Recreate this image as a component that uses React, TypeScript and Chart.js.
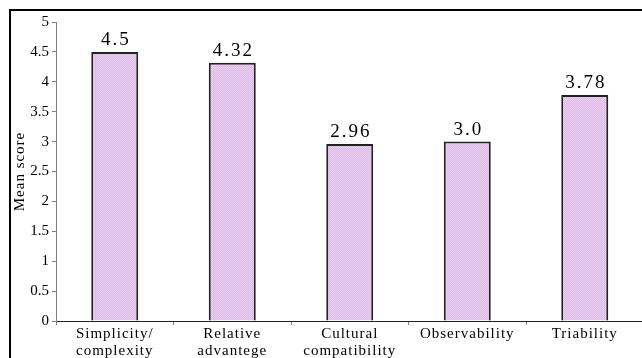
import React, { useEffect, useRef } from "react";
import { Chart, registerables, CategoryScale, LinearScale } from "chart.js";

Chart.register(...registerables);

const categories: string[][] = [
  ["Simplicity/", "complexity"],
  ["Relative", "advantege"],
  ["Cultural", "compatibility"],
  ["Observability"],
  ["Triability"],
];
const meanScores = [4.5, 4.32, 2.96, 3.0, 3.78];
const valueLabels = ["4.5", "4.32", "2.96", "3.0", "3.78"];
const yMin = 0;
const yMax = 5;
const yStep = 0.5;
const yTitle = "Mean score";

const FONT = "'Liberation Serif', 'Times New Roman', serif";

class SpacedCategoryScale extends CategoryScale {
  static id = "spacedCategory";
  static defaults = CategoryScale.defaults;
  drawLabels(area: any) {
    const ctx: any = this.ctx;
    const prev = ctx.letterSpacing;
    ctx.letterSpacing = "1px";
    super.drawLabels(area);
    ctx.letterSpacing = prev || "0px";
  }
}

class SpacedLinearScale extends LinearScale {
  static id = "spacedLinear";
  static defaults = LinearScale.defaults;
  drawTitle() {
    const ctx: any = this.ctx;
    const prev = ctx.letterSpacing;
    ctx.letterSpacing = "1px";
    // @ts-ignore
    super.drawTitle();
    ctx.letterSpacing = prev || "0px";
  }
}

Chart.register(SpacedCategoryScale as any, SpacedLinearScale as any);

function makePattern(): CanvasPattern | string {
  const c = document.createElement("canvas");
  c.width = 2;
  c.height = 2;
  const g = c.getContext("2d");
  if (!g) return "#e4c4e8";
  g.fillStyle = "#f2cce6";
  g.fillRect(0, 0, 2, 2);
  g.fillStyle = "#d6bef0";
  g.fillRect(1, 0, 1, 1);
  g.fillRect(0, 1, 1, 1);
  const p = g.createPattern(c, "repeat");
  return p || "#e4c4e8";
}

const valueLabelPlugin = {
  id: "valueLabels",
  afterDatasetsDraw(chart: any) {
    const ctx = chart.ctx as any;
    const meta = chart.getDatasetMeta(0);
    ctx.save();
    ctx.font = `19px ${FONT}`;
    ctx.fillStyle = "#000";
    ctx.textAlign = "center";
    ctx.textBaseline = "alphabetic";
    ctx.letterSpacing = "2px";
    meta.data.forEach((bar: any, i: number) => {
      ctx.fillText(valueLabels[i], bar.x + 1, bar.y - 7);
    });
    ctx.restore();
  },
};

export default function App() {
  const ref = useRef<HTMLCanvasElement | null>(null);

  useEffect(() => {
    if (!ref.current) return;
    const chart = new Chart(ref.current, {
      type: "bar",
      data: {
        labels: categories,
        datasets: [
          {
            data: meanScores,
            backgroundColor: makePattern() as any,
            borderColor: "#222",
            borderWidth: 2,
            barPercentage: 0.4,
            categoryPercentage: 1,
          },
        ],
      },
      options: {
        responsive: false,
        animation: false,
        events: [],
        layout: { padding: { left: 0, right: 2.5, top: 22, bottom: 0 } },
        plugins: {
          legend: { display: false },
          tooltip: { enabled: false },
        },
        scales: {
          x: {
            type: "spacedCategory" as any,
            offset: true,
            grid: {
              display: true,
              offset: true,
              drawOnChartArea: false,
              tickLength: 4,
              color: "#808080",
            },
            border: { display: true, color: "#222", width: 1 },
            ticks: {
              color: "#000",
              font: { family: FONT, size: 15, lineHeight: 1.15 },
              padding: 0,
              maxRotation: 0,
              autoSkip: false,
            },
            afterFit: (s: any) => {
              s.height = 37;
            },
          } as any,
          y: {
            type: "spacedLinear" as any,
            min: yMin,
            max: yMax,
            ticks: {
              stepSize: yStep,
              color: "#000",
              font: { family: FONT, size: 15 },
              padding: 3,
              callback: (v: any) => String(v),
            },
            grid: {
              display: true,
              drawOnChartArea: false,
              tickLength: 4,
              color: "#808080",
            },
            border: { display: true, color: "#808080", width: 1 },
            title: {
              display: true,
              text: yTitle,
              color: "#000",
              font: { family: FONT, size: 15 },
              padding: { top: 11, bottom: 0 },
            },
            afterFit: (s: any) => {
              s.width = 56;
            },
          } as any,
        },
      },
      plugins: [valueLabelPlugin],
    });
    return () => chart.destroy();
  }, []);

  return (
    <div
      style={{
        position: "fixed",
        left: 0,
        top: 0,
        width: 642,
        height: 358,
        overflow: "hidden",
        background: "#fff",
      }}
    >
      <canvas
        ref={ref}
        width={646}
        height={358}
        style={{ position: "absolute", left: 0, top: 0, width: 646, height: 358 }}
      />
      <div
        style={{
          position: "absolute",
          left: 9,
          top: 9,
          width: 700,
          height: 400,
          borderTop: "2px solid #000",
          borderLeft: "2px solid #000",
          pointerEvents: "none",
        }}
      />
    </div>
  );
}
